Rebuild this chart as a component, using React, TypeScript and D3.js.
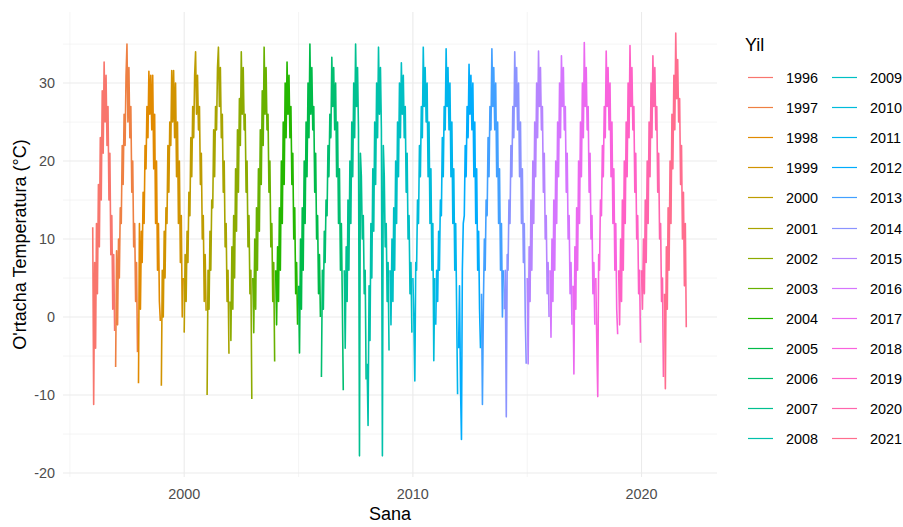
import React from 'react';
import * as d3 from 'd3';

// half-monthly readings (1st and 16th of each month), deg C
const t1996 = [11.5, -11.2, 7, -4, 12, 3, 17, 9, 23, 15, 29, 21, 32.7, 25, 31, 22, 27, 15, 21, 8, 13, 1, 8, -1.8];
const t1997 = [-6.4, 8.5, -1, 10, 5, 14, 12, 22, 17, 26, 22, 31, 35, 25, 32, 23, 27, 16, 20, 9, 12, 2, 7, -4.5];
const t1998 = [-8.5, 12, 1, 11, 7, 16, 12, 22, 19, 27, 23, 31.5, 26, 31, 24, 31, 19, 26, 12, 20, 6, 12, 2, -0.5];
const t1999 = [-8.8, 6, 0, 11, 5, 14, 12, 22, 16, 25, 22, 31.6, 25, 31.6, 23, 30, 18, 25, 12, 20, 7, 13, 0, 5];
const t2000 = [-2, 8, 2, 11, 7, 16, 13, 23, 18, 27, 23, 31, 34, 26, 31, 24, 27, 17, 21, 10, 13, 2, 8, 0.8];
const t2001 = [-10, 6, 1, 11, 6, 15, 14, 24, 18, 27, 24, 32, 34.6, 27, 32, 23, 26, 16, 20, 9, 12, 2, 6, -4.7];
const t2002 = [2, -3, 9, 1, 13, 5, 19, 11, 24, 16, 28, 22, 34, 26, 32, 24, 26, 16, 20, 9, 13, 3, 6, -10.5];
const t2003 = [5, -2, 10, 1, 14, 6, 19, 11, 24, 17, 29, 22, 34.6, 26, 32, 24, 26, 16, 20, 9, 12, 2, 7, -5.7];
const t2004 = [6, -1, 9, 2, 14, 6, 20, 12, 25, 17, 30, 23, 32.7, 26, 31, 23, 27, 17, 21, 10, 14, 3, 7, -1];
const t2005 = [4, -4.6, 10, 1, 14, 6, 20, 12, 25, 18, 30, 23, 35, 26, 32, 24, 27, 16, 21, 10, 13, 3, 8, 0];
const t2006 = [-7.7, 6, 1, 11, 7, 15, 13, 22, 18, 26, 23, 33.3, 27, 32, 24, 30, 18, 25, 12, 19, 6, 12, 2, -9.4];
const t2007 = [6, -4, 9, 2, 15, 6, 20, 12, 25, 18, 30, 23, 35, 27, 32, 24, -17.8, 21, 18, 10, 13, 3, 6, -8];
const t2008 = [-6, -13.9, 4, -3, 12, 5, 19, 11, 25, 17, 30, 23, 34.6, 26, 32, 24, -17.8, 22, 18, 9, 12, 2, 7, -4.3];
const t2009 = [6, -1, 10, 2, 14, 6, 20, 12, 25, 18, 30, 23, 32.6, 26, 31, 23, 27, 16, 21, 10, 13, 3, 7, -2];
const t2010 = [5, 0, -8.2, 7, 6, 15, 12, 22, 18, 27, 23, 34.6, 27, 32, 25, 30, 18, 25, 12, 19, 6, 12, -5.6, 5];
const t2011 = [-1, 6, 2, 11, 6, 15, 13, 23, 18, 27, 24, 34.4, 27, 32, 24, 30, 18, 25, 12, 19, 6, 12, 1, -9.9];
const t2012 = [-4, 4, -9, -15.7, 6, 12, 13, 22, 18, 27, 23, 32.4, 26, 31, 24, 30, 18, 25, 12, 19, 6, 11, 1, -4];
const t2013 = [3, -11.2, 2, 10, 6, 15, 13, 23, 18, 27, 24, 34.4, 27, 32, 24, 30, 18, 25, 12, 19, 6, 12, 0, 6];
const t2014 = [1, 6, -12.8, 8, 6, 15, 12, 22, 18, 27, 23, 34, 27, 32, 24, 30, 18, 25, 12, 19, 7, 12, 0, -6];
const t2015 = [5, -6, 9, 2, 15, 6, 20, 12, 25, 18, 30, 23, 34.1, 27, 32, 24, 27, 16, 21, 10, 13, 3, 7, 0];
const t2016 = [6, -2.6, 10, 2, 15, 6, 20, 12, 25, 18, 30, 23, 33.5, 27, 32, 24, 27, 16, 21, 10, 13, 3, 7, -1];
const t2017 = [4, -7.3, 9, 1, 14, 6, 20, 12, 25, 18, 30, 23, 35.2, 27, 32, 24, 27, 16, 21, 10, 13, 3, 7, -1];
const t2018 = [5, -3, -10.2, 8, 6, 15, 13, 22, 18, 27, 23, 34.1, 27, 32, 24, 30, 18, 25, 12, 19, 6, 12, 1, -2.2];
const t2019 = [6, -1, 10, 2, 15, 6, 20, 12, 25, 18, 30, 23, 34.8, 27, 32, 24, 27, 16, 21, 10, 13, 3, 6, -3.3];
const t2020 = [6, 1, 10, 3, 15, 7, 20, 12, 25, 18, 30, 23, 33.5, 27, 32, 24, 27, 16, 21, 10, 12, 2, 5, -7.7];
const t2021 = [3, -9.2, 9, 1, 14, 6, 20, 12, 26, 19, 31, 24, 36.4, 28, 33, 25, 28, 17, 22, 10, 16, 4, 12, -1.3];

const years = [1996, 1997, 1998, 1999, 2000, 2001, 2002, 2003, 2004, 2005, 2006, 2007, 2008,
  2009, 2010, 2011, 2012, 2013, 2014, 2015, 2016, 2017, 2018, 2019, 2020, 2021];
const temps = [t1996, t1997, t1998, t1999, t2000, t2001, t2002, t2003, t2004, t2005, t2006, t2007, t2008,
  t2009, t2010, t2011, t2012, t2013, t2014, t2015, t2016, t2017, t2018, t2019, t2020, t2021];
const sampleDays = [1, 16];

const yMajor = [-20, -10, 0, 10, 20, 30];
const yMinor = [-15, -5, 5, 15, 25, 35];
const xMajor = [2000, 2010, 2020];
const xMinor = [1995, 2005, 2015];

const FONT = '"Liberation Sans", Arial, sans-serif';

// R's hcl() (polar LUV) -> hex, like ggplot's hue_pal
function hclLuv(h: number, c: number, l: number) {
  const hr = (h * Math.PI) / 180;
  const u = c * Math.cos(hr), v = c * Math.sin(hr);
  const Xn = 95.047, Yn = 100, Zn = 108.883;
  const den = Xn + 15 * Yn + 3 * Zn;
  const un = (4 * Xn) / den, vn = (9 * Yn) / den;
  const Y = l > 8 ? Yn * Math.pow((l + 16) / 116, 3) : (Yn * l) / 903.3;
  const up = u / (13 * l) + un, vp = v / (13 * l) + vn;
  const X = (9 * Y * up) / (4 * vp);
  const Z = (Y * (12 - 3 * up - 20 * vp)) / (4 * vp);
  const x = X / 100, y = Y / 100, z = Z / 100;
  const lin = [
    3.240479 * x - 1.53715 * y - 0.498535 * z,
    -0.969256 * x + 1.875992 * y + 0.041556 * z,
    0.055648 * x - 0.204043 * y + 1.057311 * z,
  ];
  const g = lin.map((t) => {
    const s = t <= 0.0031308 ? 12.92 * t : 1.055 * Math.pow(t, 1 / 2.4) - 0.055;
    return Math.round(Math.max(0, Math.min(1, s)) * 255);
  });
  return d3.rgb(g[0], g[1], g[2]).formatHex();
}

export default function App() {
  const W = 903, H = 527;
  const left = 63, right = 717, top = 12, bottom = 477;

  const start = Date.UTC(years[0], 0, 1);
  const end = Date.UTC(years[years.length - 1] + 1, 0, 1);
  const xpad = (end - start) * 0.05;
  const x = d3.scaleUtc().domain([new Date(start - xpad), new Date(end + xpad)]).range([left, right]);

  const all = temps.flat();
  const [mn, mx] = d3.extent(all) as [number, number];
  const ypad = (mx - mn) * 0.05;
  const y = d3.scaleLinear().domain([mn - ypad, mx + ypad]).range([bottom, top]);

  const n = years.length;
  const colors = years.map((_, i) => hclLuv(15 + (360 / n) * i, 100, 65));

  const series = years.map((yr, i) => {
    const pts = temps[i].map((v, k) => ({
      date: new Date(Date.UTC(yr, Math.floor(k / 2), sampleDays[k % 2])),
      value: v,
    }));
    return { yr, pts, color: colors[i] };
  });

  const line = d3.line<{ date: Date; value: number }>()
    .x((d) => x(d.date))
    .y((d) => y(d.value));

  const yearX = (yr: number) => x(new Date(Date.UTC(yr, 0, 1)));
  const half = Math.ceil(n / 2);

  return (
    <svg width={W} height={H} style={{ position: 'absolute', left: 0, top: 0, background: '#fff' }}
      fontFamily={FONT}>
      {/* grid */}
      {yMinor.map((v) => (
        <line key={'ym' + v} x1={left} x2={right} y1={y(v)} y2={y(v)} stroke="#EBEBEB" strokeWidth={0.55} />
      ))}
      {xMinor.map((v) => (
        <line key={'xm' + v} x1={yearX(v)} x2={yearX(v)} y1={top} y2={bottom} stroke="#EBEBEB" strokeWidth={0.55} />
      ))}
      {yMajor.map((v) => (
        <line key={'yM' + v} x1={left} x2={right} y1={y(v)} y2={y(v)} stroke="#EBEBEB" strokeWidth={1.1} />
      ))}
      {xMajor.map((v) => (
        <line key={'xM' + v} x1={yearX(v)} x2={yearX(v)} y1={top} y2={bottom} stroke="#EBEBEB" strokeWidth={1.1} />
      ))}

      {/* lines */}
      {series.map((s) => (
        <path key={s.yr} d={line(s.pts) || ''} fill="none" stroke={s.color} strokeWidth={1.6}
          strokeLinejoin="round" />
      ))}

      {/* axis labels */}
      {yMajor.map((v) => (
        <text key={'yl' + v} x={55} y={y(v)} dy="0.36em" textAnchor="end" fontSize={14.4} fill="#4D4D4D">
          {v}
        </text>
      ))}
      {xMajor.map((v) => (
        <text key={'xl' + v} x={yearX(v)} y={499} textAnchor="middle" fontSize={14.4} fill="#4D4D4D">
          {v}
        </text>
      ))}
      <text x={(left + right) / 2} y={520} textAnchor="middle" fontSize={18} fill="#000">Sana</text>
      <text transform={`translate(26,${(top + bottom) / 2}) rotate(-90)`} textAnchor="middle" fontSize={18}
        fill="#000">O'rtacha Temperatura (°C)</text>

      {/* legend */}
      <text x={745} y={51} fontSize={18} fill="#000">Yil</text>
      {series.map((s, i) => {
        const col = Math.floor(i / half);
        const row = i % half;
        const ky = Math.round(77 + row * 30.1) + 0.5;
        const kx = col === 0 ? 748 : 832;
        return (
          <g key={'lg' + s.yr}>
            <line x1={kx} x2={kx + 25} y1={ky} y2={ky} stroke={s.color} strokeWidth={1.2} />
            <text x={kx + 38} y={ky} dy="0.36em" fontSize={14.4} fill="#000">{s.yr}</text>
          </g>
        );
      })}
    </svg>
  );
}
